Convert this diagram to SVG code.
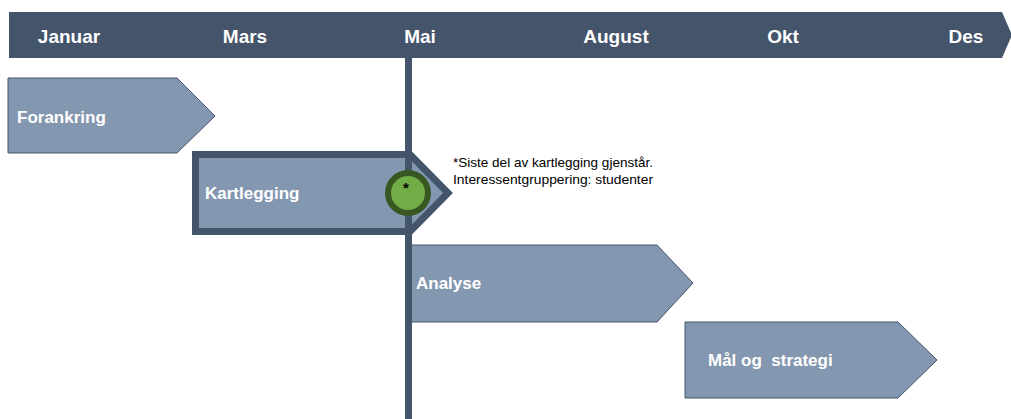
<svg xmlns="http://www.w3.org/2000/svg" width="1011" height="419" viewBox="0 0 1011 419">
  <style>
    .month { font-family: "Liberation Sans", Arial, sans-serif; font-weight: bold; font-size: 19px; fill: #ffffff; text-anchor: middle; }
    .phase { fill: #8497B0; stroke: #44546A; stroke-width: 1; }
    .label { font-family: "Liberation Sans", Arial, sans-serif; font-weight: bold; font-size: 17px; fill: #ffffff; }
    .note { font-family: "Liberation Sans", Arial, sans-serif; font-size: 13px; fill: #000000; }
  </style>
  <rect width="1011" height="419" fill="#ffffff"/>
  <g id="header">
    <polygon points="9,12 1002,12 1012,35 1002,58 9,58" fill="#44546A"/>
    <text class="month" x="69" y="43">Januar</text>
    <text class="month" x="245" y="43">Mars</text>
    <text class="month" x="420" y="43">Mai</text>
    <text class="month" x="616" y="43">August</text>
    <text class="month" x="783" y="43">Okt</text>
    <text class="month" x="966" y="43">Des</text>
  </g>
  <g id="forankring">
    <polygon class="phase" points="8,78 177,78 215,116 177,153 8,153"/>
    <text class="label" x="17" y="123">Forankring</text>
  </g>
  <g id="analyse">
    <polygon class="phase" points="410,245 657,245 693,283 657,322 410,322"/>
    <text class="label" x="416" y="289">Analyse</text>
  </g>
  <g id="maal-og-strategi">
    <polygon class="phase" points="685,322 898,322 937,360 898,398 685,398"/>
    <text class="label" x="708" y="366" xml:space="preserve">Mål og  strategi</text>
  </g>
  <g id="kartlegging">
    <polygon points="195.5,154.5 410,154.5 448,193 410,231.5 195.5,231.5" fill="#8497B0" stroke="#44546A" stroke-width="7" stroke-linejoin="miter"/>
    <text class="label" x="205" y="199">Kartlegging</text>
  </g>
  <g id="connectors">
    <line id="today-marker" x1="408.5" y1="58" x2="408.5" y2="419" stroke="#44546A" stroke-width="7"/>
  </g>
  <g id="status-marker">
    <circle cx="408" cy="193" r="20" fill="#70AD47" stroke="#385723" stroke-width="6"/>
    <text x="406" y="193" font-family="Liberation Sans, Arial, sans-serif" font-weight="bold" font-size="15" fill="#000000" text-anchor="middle">*</text>
  </g>
  <g id="note">
    <text class="note" x="453" y="167" textLength="200" lengthAdjust="spacingAndGlyphs">*Siste del av kartlegging gjenstår.</text>
    <text class="note" x="453" y="184" textLength="200" lengthAdjust="spacingAndGlyphs">Interessentgruppering: studenter</text>
  </g>
</svg>
